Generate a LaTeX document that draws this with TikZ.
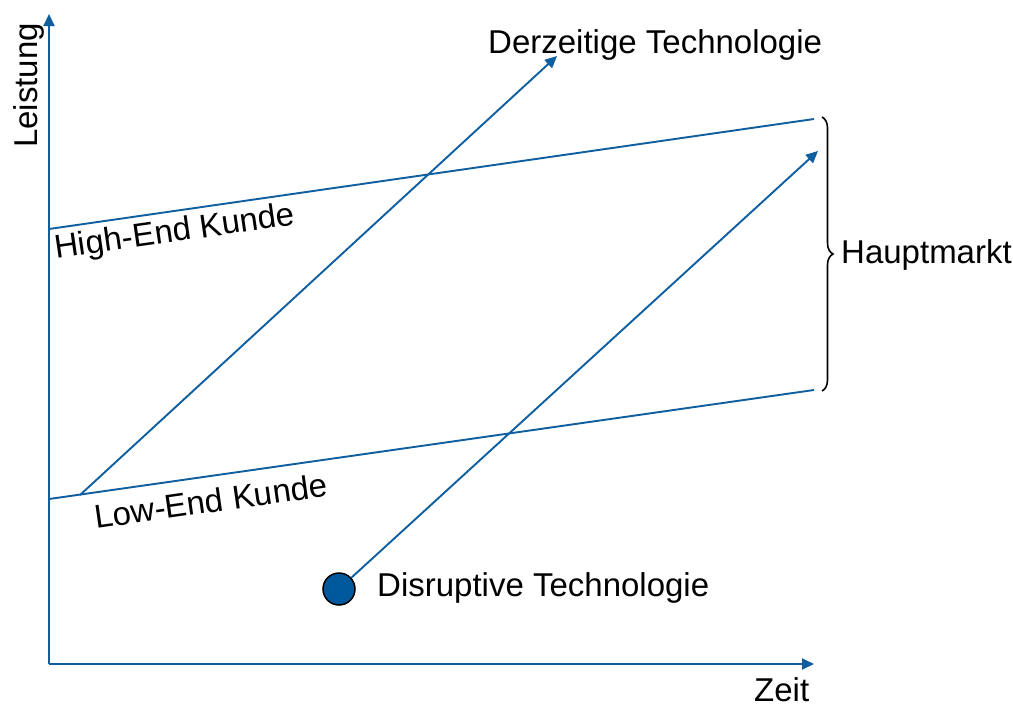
\documentclass[tikz,border=0pt]{standalone}
\usepackage{fontspec}
\setmainfont{Liberation Sans}
\usetikzlibrary{arrows.meta,decorations.pathreplacing}
\definecolor{lineblue}{RGB}{14,94,160}
\definecolor{dotblue}{RGB}{0,88,156}
\begin{document}
\begin{tikzpicture}[x=1pt,y=-1pt,
  line/.style={draw=lineblue,line width=1.9pt},
  arr/.style={line,-{Triangle[length=12pt,width=11pt]}},
  lbl/.style={inner sep=0pt,anchor=base west,font=\fontsize{33}{39}\selectfont},
  brc/.style={draw=black,line width=1.6pt,decorate,decoration={brace,amplitude=11pt}}]
\useasboundingbox (0,0) rectangle (1013,704);

% axes
\coordinate (origin) at (49,664);
\coordinate (ytip) at (49,14);
\coordinate (xtip) at (814,664);
\draw[arr] (origin) -- (ytip);
\draw[arr] (origin) -- (xtip);
\node[lbl,rotate=90] (leistung) at (37,148) {Leistung};
\node[lbl] (zeit) at (754,701) {Zeit};

% customer requirement lines
\coordinate (he1) at (49,229);
\coordinate (he2) at (814,119);
\coordinate (le1) at (49,499);
\coordinate (le2) at (814,390);
\draw[line] (he1) -- (he2);
\draw[line] (le1) -- (le2);
\node[lbl,rotate=8.2] (high) at (56,259) {High-End Kunde};
\node[lbl,rotate=8.1] (low) at (96,529) {Low-End Kunde};

% market bracket
\coordinate (b1) at (822,117);
\coordinate (b2) at (822,391);
\draw[brc] (b1) -- (b2);
\node[lbl] (haupt) at (841,263) {Hauptmarkt};

% current technology trajectory
\coordinate (d0) at (80,495);
\coordinate (d1) at (557,56);
\draw[arr] (d0) -- (d1);
\node[lbl] (derz) at (488,53) {Derzeitige Technologie};

% disruptive technology trajectory
\node[circle,draw=black,line width=1.5pt,fill=dotblue,minimum size=32pt,inner sep=0pt] (disr) at (339,589) {};
\coordinate (t1) at (818,151);
\draw[arr] (disr) -- (t1);
\node[lbl] (disrl) at (377,596) {Disruptive Technologie};
\end{tikzpicture}
\end{document}
